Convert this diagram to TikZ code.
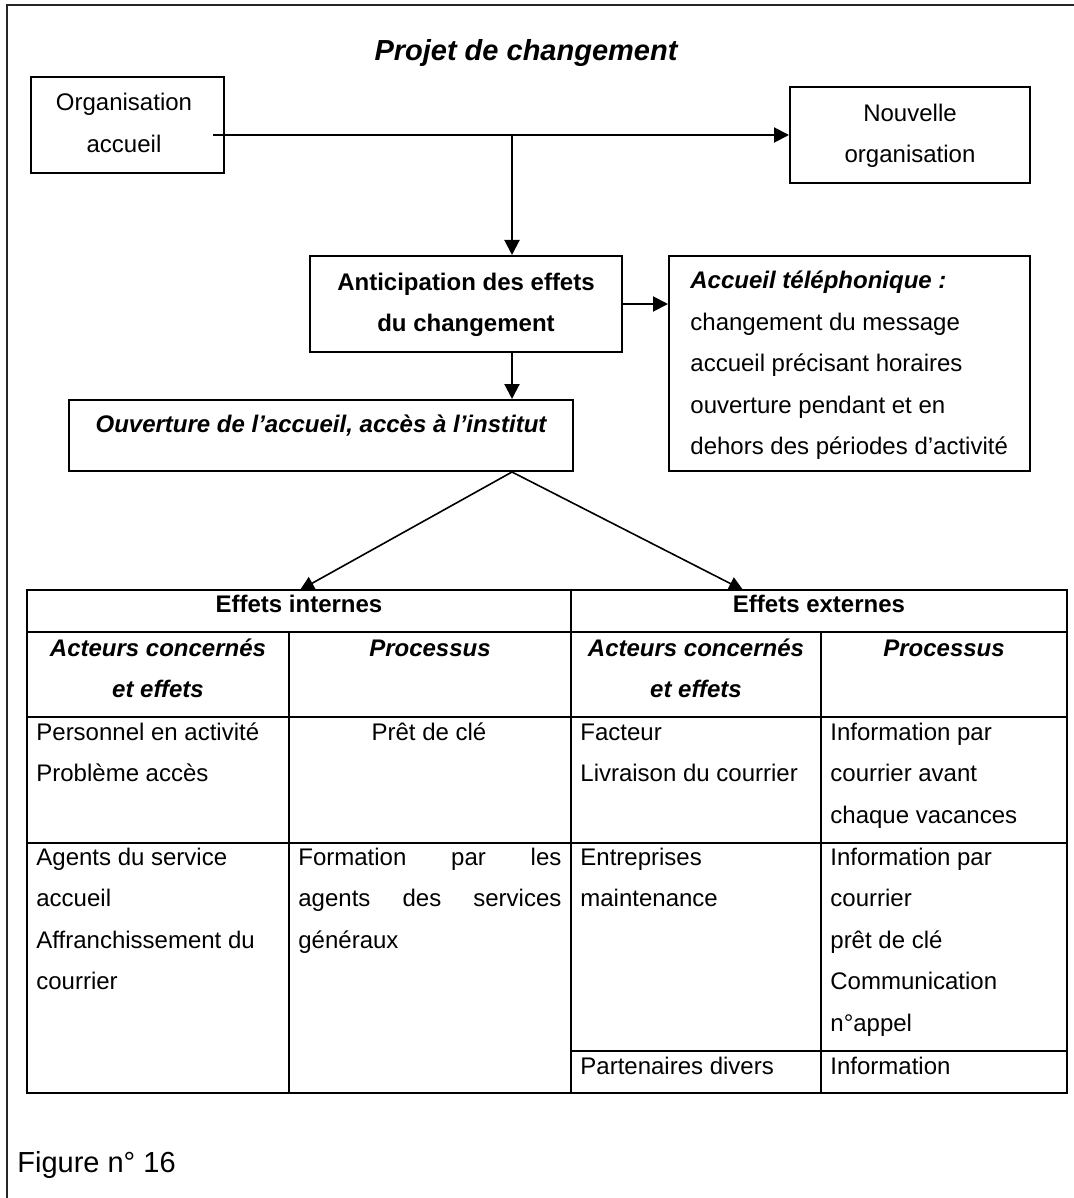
\documentclass[tikz,border=0pt]{standalone}
\usepackage{fontspec}
\setmainfont{Liberation Sans}
\usetikzlibrary{arrows.meta}
\begin{document}
\begin{tikzpicture}[x=0.5pt,y=-0.5pt,
  box/.style={draw,line width=1pt,inner sep=0pt},
  arr/.style={line width=1pt,-{Triangle[length=7.5pt,width=7.5pt]}},
  arrthin/.style={line width=0.8pt,-{Triangle[length=7pt,width=7pt]}},
  gridline/.style={line width=1pt},
  frameline/.style={line width=1.2pt,black!85},
  txt/.style={inner sep=0pt,font=\fontsize{12}{20.75}\selectfont},
  lt/.style={txt,anchor=base west,align=left},
  ct/.style={txt,anchor=base,align=center},
  bf/.style={font=\fontsize{12}{20.75}\selectfont\bfseries},
  bi/.style={font=\fontsize{12}{20.75}\selectfont\bfseries\itshape}]
\useasboundingbox (0,0) rectangle (1074,1198);
\fill[white] (0,0) rectangle (1074,1198);
\draw[frameline] (1074,5) -- (7,5) -- (7,1198);

% title
\node[ct,font=\fontsize{14.5}{17}\selectfont\bfseries\itshape] (title) at (526,61) {Projet de changement};

% boxes (multi-line texts are placed by the baseline of their last line)
\node[box,minimum width=96.5pt,minimum height=48pt] (org) at (127.5,125) {};
\node[ct] (orgt) at (124,152.5) {Organisation\\accueil};
\node[box,minimum width=120pt,minimum height=48pt] (nouv) at (910,135) {};
\node[ct] (nouvt) at (910,162.5) {Nouvelle\\organisation};
\node[box,minimum width=156pt,minimum height=48pt] (anti) at (466,304) {};
\node[ct,bf] (antit) at (466,331.5) {Anticipation des effets\\du changement};
\node[box,minimum width=180.5pt,minimum height=107.5pt] (acc) at (849.5,363.5) {};
\node[lt] (acct) at (690,454.5) {\textbf{\textit{Accueil téléphonique :}}\\changement du message\\accueil précisant horaires\\ouverture pendant et en\\dehors des périodes d’activité};
\node[box,minimum width=252pt,minimum height=35.5pt] (ouv) at (321,435.5) {};
\node[ct,bi] (ouvt) at (321,432) {Ouverture de l’accueil, accès à l’institut};

% connectors
\coordinate (start) at (213,135);
\coordinate (j) at (512,135);
\draw[arr] (start) -- (nouv.west);
\draw[arr] (j) -- (j |- anti.north);
\draw[arr] (anti.east) -- (anti.east -| acc.west);
\draw[arr] (anti.south -| j) -- (ouv.north -| j);

% table header cells
\node[inner sep=0pt,minimum width=272pt,minimum height=21pt] (eint) at (299,611) {};
\node[inner sep=0pt,minimum width=248pt,minimum height=21pt] (eext) at (819,611) {};
\coordinate (tipL) at (300,590);
\coordinate (tipR) at (743,590);
\draw[arrthin] (ouv.south -| j) -- (tipL);
\draw[arrthin] (ouv.south -| j) -- (tipR);

% table grid
\draw[gridline] (27,590) rectangle (1067,1093);
\draw[gridline] (27,632) -- (1067,632);
\draw[gridline] (27,717) -- (1067,717);
\draw[gridline] (27,843) -- (1067,843);
\draw[gridline] (571,1051) -- (1067,1051);
\draw[gridline] (571,590) -- (571,1093);
\draw[gridline] (289,632) -- (289,1093);
\draw[gridline] (821,632) -- (821,1093);

% table texts
\node[ct,bf] (hi) at (299,612) {Effets internes};
\node[ct,bf] (he) at (819,612) {Effets externes};
\node[ct,bi] (h1) at (158,697.5) {Acteurs concernés\\et effets};
\node[ct,bi] (h2) at (430,656) {Processus};
\node[ct,bi] (h3) at (696,697.5) {Acteurs concernés\\et effets};
\node[ct,bi] (h4) at (944,656) {Processus};

\node[lt] (c21) at (36,781.5) {Personnel en activité\\Problème accès};
\node[ct] (c22) at (429,740) {Prêt de clé};
\node[lt] (c23) at (580,781.5) {Facteur\\Livraison du courrier};
\node[lt] (c24) at (830,823) {Information par\\courrier avant\\chaque vacances};

\node[lt] (c31) at (36,989.5) {Agents du service\\accueil\\Affranchissement du\\courrier};
\node[lt] (c32) at (298,948) {\makebox[131.5pt][s]{Formation par les}\\\makebox[131.5pt][s]{agents des services}\\généraux};
\node[lt] (c33) at (580,906.5) {Entreprises\\maintenance};
\node[lt] (c34) at (830,1031) {Information par\\courrier\\prêt de clé\\Communication\\n°appel};

\node[lt] (c43) at (580,1074) {Partenaires divers};
\node[lt] (c44) at (830,1074) {Information};

\node[txt,anchor=base west,font=\fontsize{14.5}{17}\selectfont] (fig) at (17,1172) {Figure n° 16};
\end{tikzpicture}
\end{document}
